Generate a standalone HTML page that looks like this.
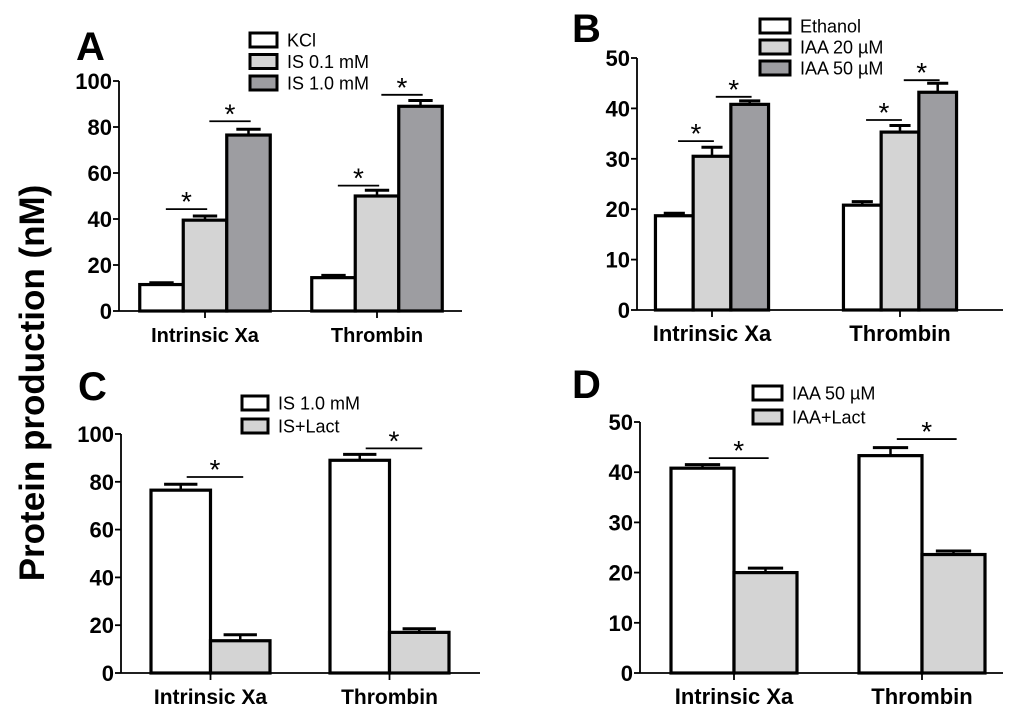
<!DOCTYPE html>
<html><head><meta charset="utf-8"><style>
html,body{margin:0;padding:0;background:#fff;}
svg{display:block;font-family:"Liberation Sans",Arial,sans-serif;}
</style></head><body>
<svg id="fig" width="1024" height="722" viewBox="0 0 1024 722" xmlns="http://www.w3.org/2000/svg">
<text x="44" y="383" transform="rotate(-90 44 383)" text-anchor="middle" font-size="35" font-weight="bold">Protein production (nM)</text>
</svg>
<script>
// Panel A data
const catsA = ["Intrinsic Xa", "Thrombin"];
const seriesA = ["KCl", "IS 0.1 mM", "IS 1.0 mM"];
const valsA = [[11.5, 39.5, 76.5], [14.5, 50, 89]];
const errsA = [[0.8, 1.8, 2.5], [1, 2.5, 2.5]];
const ticksA = [0, 20, 40, 60, 80, 100];
const sigA = [[0, 0, 44.3], [0, 1, 82.5], [1, 0, 54.5], [1, 1, 94]];
// Panel B data
const catsB = ["Intrinsic Xa", "Thrombin"];
const seriesB = ["Ethanol", "IAA 20 \u00b5M", "IAA 50 \u00b5M"];
const valsB = [[18.7, 30.5, 40.8], [20.8, 35.3, 43.2]];
const errsB = [[0.5, 1.8, 0.7], [0.7, 1.3, 1.8]];
const ticksB = [0, 10, 20, 30, 40, 50];
const sigB = [[0, 0, 33.5], [0, 1, 42.3], [1, 0, 37.7], [1, 1, 45.6]];
// Panel C data
const catsC = ["Intrinsic Xa", "Thrombin"];
const seriesC = ["IS 1.0 mM", "IS+Lact"];
const valsC = [[76.5, 13.5], [89, 17]];
const errsC = [[2.5, 2.5], [2.5, 1.5]];
const ticksC = [0, 20, 40, 60, 80, 100];
const sigC = [[0, 0, 82], [1, 0, 94]];
// Panel D data
const catsD = ["Intrinsic Xa", "Thrombin"];
const seriesD = ["IAA 50 \u00b5M", "IAA+Lact"];
const valsD = [[40.8, 20], [43.3, 23.6]];
const errsD = [[0.7, 0.9], [1.6, 0.7]];
const ticksD = [0, 10, 20, 30, 40, 50];
const sigD = [[0, 0, 42.8], [1, 0, 46.6]];

const NS = "http://www.w3.org/2000/svg";
const svg = document.getElementById("fig");
function mk(tag, attrs, parent) {
  const e = document.createElementNS(NS, tag);
  for (const k in attrs) e.setAttribute(k, attrs[k]);
  (parent || svg).appendChild(e);
  return e;
}
const fills3 = ["#ffffff", "#d4d4d4", "#9d9da1"];
const fills2 = ["#ffffff", "#d4d4d4"];

function panel(o) {
  const g = mk("g", {});
  
  
  const ymax = o.ticks[o.ticks.length - 1];
  const ys = v => o.y0 - (v / ymax) * (o.y0 - o.ytop);
  const n = o.series.length;
  const groupW = o.barW * n;
  const xc = i => o.c0 + i * o.cstep;
  const barX = (ci, si) => xc(ci) - groupW / 2 + si * o.barW;
  const fills = n === 3 ? fills3 : fills2;

  const lt = mk("text", {x: o.lx, y: o.ly, "font-size": 40, "font-weight": "bold"}, g);
  lt.textContent = o.id;
  
  

  o.vals.forEach((row, ci) => row.forEach((v, si) => {
    const x = barX(ci, si);
    const top = ys(v), et = ys(v + o.errs[ci][si]);
    const cx = x + o.barW / 2;
    const eb = mk("line", {x1: cx, x2: cx, y1: top, y2: et, stroke: "#000", "stroke-width": 2.5}, g);
    
    
    const cap = mk("line", {x1: cx - o.barW * 0.28, x2: cx + o.barW * 0.28, y1: et, y2: et, stroke: "#000", "stroke-width": 3}, g);
    
    
    const r = mk("rect", {x: x, y: top, width: o.barW, height: o.y0 - top, fill: fills[si], stroke: "#000", "stroke-width": 3.2}, g);
    
    
  }));

  const ya = mk("line", {x1: o.ax, x2: o.ax, y1: ys(ymax), y2: o.y0, stroke: "#000", "stroke-width": 1.8}, g);
  
  
  const xa = mk("line", {x1: o.ax, x2: o.axEnd, y1: o.y0, y2: o.y0, stroke: "#000", "stroke-width": 1.8}, g);
  
  
  o.ticks.forEach(t => {
    const y = ys(t);
    const tk = mk("line", {x1: o.ax - 6, x2: o.ax, y1: y, y2: y, stroke: "#000", "stroke-width": 1.8}, g);
    
    
    const tl = mk("text", {x: o.ax - 7, y: y + 8, "text-anchor": "end", "font-size": 22, "font-weight": "bold"}, g);
    tl.textContent = t;
    
    
  });
  o.cats.forEach((c, ci) => {
    const x = xc(ci);
    const tk = mk("line", {x1: x, x2: x, y1: o.y0, y2: o.y0 + 7, stroke: "#000", "stroke-width": 1.8}, g);
    
    
    const tl = mk("text", {x: x, y: o.y0 + 31, "text-anchor": "middle", "font-size": o.catFs, "font-weight": "bold"}, g);
    tl.textContent = c;
    
    
  });

  o.sig.forEach(s => {
    const ci = s[0], si = s[1], lv = s[2];
    const x1 = barX(ci, si) + o.barW * 0.6, x2 = barX(ci, si + 1) + o.barW * 0.55;
    const y = ys(lv);
    const ln = mk("line", {x1: x1, x2: x2, y1: y, y2: y, stroke: "#000", "stroke-width": 1.8}, g);
    
    
    const st = mk("text", {x: (x1 + x2) / 2, y: y + 2, "text-anchor": "middle", "font-size": 28}, g);
    st.textContent = "*";
    
    
  });

  o.series.forEach((s, si) => {
    const y = o.legY + si * o.legStep;
    const b = mk("rect", {x: o.legX, y: y - 7, width: o.legW, height: 14, fill: fills[si], stroke: "#000", "stroke-width": 3}, g);
    
    
    const t = mk("text", {x: o.legX + o.legW + 10, y: y + 6.5, "font-size": 18}, g);
    t.textContent = s;
    
    
  });
}

panel({id: "A", cats: catsA, series: seriesA, vals: valsA, errs: errsA, ticks: ticksA, sig: sigA,
  ax: 119, axEnd: 462, y0: 311, ytop: 81, c0: 205, cstep: 172, barW: 43.5, catFs: 20,
  lx: 76, ly: 60, legX: 250, legY: 40, legStep: 21.5, legW: 27});
panel({id: "B", cats: catsB, series: seriesB, vals: valsB, errs: errsB, ticks: ticksB, sig: sigB,
  ax: 637, axEnd: 1003, y0: 310, ytop: 58, c0: 712, cstep: 188, barW: 37.7, catFs: 22,
  lx: 572, ly: 42, legX: 760, legY: 26, legStep: 21, legW: 30});
panel({id: "C", cats: catsC, series: seriesC, vals: valsC, errs: errsC, ticks: ticksC, sig: sigC,
  ax: 121, axEnd: 480, y0: 673, ytop: 434, c0: 210.5, cstep: 179, barW: 59.5, catFs: 21,
  lx: 78, ly: 400, legX: 242, legY: 403, legStep: 23, legW: 26});
panel({id: "D", cats: catsD, series: seriesD, vals: valsD, errs: errsD, ticks: ticksD, sig: sigD,
  ax: 640, axEnd: 1003, y0: 673, ytop: 422, c0: 734, cstep: 188, barW: 63, catFs: 22,
  lx: 572, ly: 398, legX: 753, legY: 393, legStep: 24, legW: 29});
</script>
</body></html>
